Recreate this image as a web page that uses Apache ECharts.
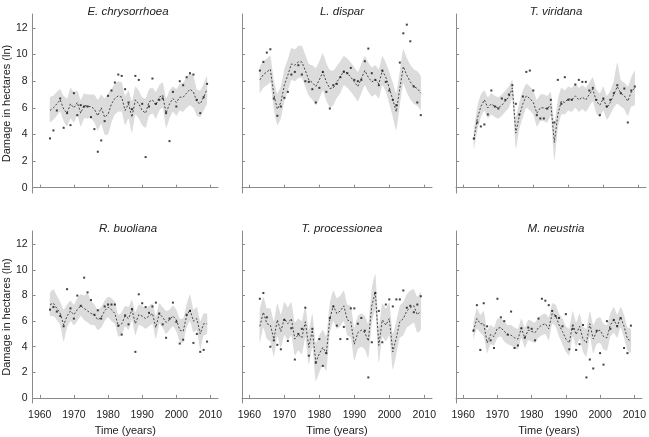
<!DOCTYPE html>
<html><head><meta charset="utf-8">
<script src="https://cdn.jsdelivr.net/npm/echarts@6/dist/echarts.min.js"></script>
<style>html,body{margin:0;padding:0;background:#fff}#c{width:649px;height:437px}</style>
</head><body><div id="c"></div>
<script>
const years = [];
for (let y = 1963; y <= 2009; y++) years.push(y);
const xTicks = [1960, 1970, 1980, 1990, 2000, 2010];
const yTicks = [0, 2, 4, 6, 8, 10, 12];
const species = ['E. chrysorrhoea', 'L. dispar', 'T. viridana', 'R. buoliana', 'T. processionea', 'M. neustria'];

// E. chrysorrhoea
const obs1 = [3.7,4.3,5.8,6.7,4.5,5.6,4.7,7.1,5.45,6.2, 6.1,6.1,5.3,4.4,2.7,3.55,5.0,6.9,7.3,7.9, 8.5,8.4,7.4,6.4,5.9,8.4,8.1,6.3,2.3,6.1, 8.2,6.3,6.6,6.7,5.6,3.5,7.2,6.1,8.0,7.7, 8.3,8.6,8.5,6.6,5.6,6.8,7.8];
const fit1 = [5.8,6.0,6.3,6.6,5.9,5.6,6.3,6.0,6.4,5.6, 6.2,6.1,6.1,5.9,5.4,6.0,5.3,5.5,6.3,6.7, 6.9,6.8,5.8,6.3,5.3,6.6,6.3,5.8,5.6,6.45, 6.6,6.2,6.8,6.95,5.6,6.3,6.7,6.4,6.8,6.8, 7.1,7.4,7.2,6.45,6.3,6.8,7.4];
const hi1 = [6.8,6.9,7.2,7.4,6.9,6.7,7.5,7.2,7.3,6.6, 7.1,7.0,7.0,7.0,6.6,7.0,6.7,7.1,7.4,7.8, 8.0,7.9,6.9,7.3,6.5,7.6,7.3,6.8,6.7,7.4, 7.5,7.2,7.7,7.9,6.7,7.3,7.6,7.4,7.8,7.9, 8.3,8.6,8.4,7.4,7.3,7.8,8.4];
const lo1 = [4.9,5.1,5.4,5.7,5.0,4.6,5.2,4.9,5.4,4.6, 5.2,5.2,5.2,4.9,4.3,4.8,4.0,4.0,4.9,5.5, 5.7,5.7,4.7,5.2,4.1,5.5,5.2,4.7,4.5,5.4, 5.6,5.2,5.8,6.0,4.5,5.2,5.7,5.4,5.8,5.7, 6.0,6.2,6.0,5.4,5.3,5.8,6.3];

// L. dispar
const obs2 = [8.8,9.45,10.15,10.4,6.7,5.4,6.1,6.75,7.2,8.5, 8.7,9.2,8.5,8.0,7.95,7.4,6.4,7.5,8.7,7.2, 5.95,7.7,7.8,8.3,8.7,8.6,9.0,8.1,8.0,8.1, 9.5,10.45,8.6,8.1,7.7,8.8,7.95,7.3,6.6,6.2, 9.4,11.6,12.25,11.0,7.6,6.4,5.45];
const fit2 = [8.1,8.5,8.7,8.9,7.0,5.9,6.4,7.7,8.45,9.3, 9.2,9.45,9.45,8.8,8.1,7.9,7.6,8.1,8.7,7.95, 7.45,7.5,7.95,8.3,8.8,8.6,8.3,7.95,7.6,8.2, 8.8,8.3,7.95,8.1,7.8,8.8,8.3,7.5,6.6,5.7, 7.45,9.1,8.45,7.95,7.6,7.45,7.1];
const hi2 = [9.1,9.5,9.7,9.9,8.1,7.1,7.6,8.9,9.65,10.5, 10.4,10.65,10.65,10.0,9.3,9.2,9.0,9.5,10.1,9.35, 8.85,8.8,9.15,9.5,9.9,9.7,9.4,9.05,8.7,9.3, 9.9,9.4,9.05,9.2,8.9,9.9,9.4,8.7,7.9,7.1, 8.75,10.4,9.75,9.25,8.9,8.75,8.4];
const lo2 = [7.1,7.5,7.7,7.9,5.9,4.7,5.2,6.5,7.25,8.1, 8.0,8.25,8.25,7.6,6.9,6.6,6.2,6.7,7.3,6.55, 6.05,6.2,6.75,7.1,7.7,7.5,7.2,6.85,6.5,7.1, 7.7,7.2,6.85,7.0,6.7,7.7,7.2,6.3,5.3,4.3, 6.15,7.8,7.15,6.65,6.3,6.15,5.8];

// T. viridana
const obs3 = [3.7,4.9,4.6,4.75,5.5,7.3,6.1,5.95,6.7,6.6, 7.0,7.7,6.3,5.5,6.85,8.7,8.8,7.3,5.45,5.2, 5.2,5.95,6.6,4.9,8.1,6.3,8.3,6.6,6.6,7.75, 8.1,7.95,7.95,7.3,7.5,6.6,5.45,6.7,6.1,6.6, 7.1,7.7,7.1,7.45,4.9,7.3,7.6];
const fit3 = [3.6,5.2,6.1,6.6,6.0,6.3,6.1,6.0,6.2,6.5, 6.8,7.5,4.1,5.4,6.3,6.9,6.7,6.4,5.6,6.0, 6.0,5.9,6.3,3.4,5.5,6.5,6.4,6.7,6.6,6.9, 6.6,6.8,6.6,7.0,7.4,6.5,6.2,6.7,6.0,6.4, 7.0,7.6,7.1,6.9,6.5,7.2,7.5];
const hi3 = [4.3,6.1,7.0,7.3,6.8,7.1,6.9,6.8,7.0,7.3, 7.6,8.1,5.3,6.4,7.3,7.8,7.6,7.3,6.6,7.0, 7.0,6.9,7.2,4.8,6.6,7.5,7.3,7.6,7.5,7.8, 7.5,7.7,7.5,7.9,8.3,7.4,7.1,7.6,6.9,7.3, 8.0,9.4,8.1,7.9,7.6,8.3,8.8];
const lo3 = [2.9,4.3,5.3,5.8,5.2,5.5,5.3,5.2,5.4,5.7, 6.0,6.7,2.9,4.4,5.3,6.0,5.8,5.5,4.6,5.0, 5.0,4.9,5.4,2.0,4.4,5.5,5.5,5.8,5.7,6.0, 5.7,5.9,5.7,6.1,6.5,5.6,5.3,5.8,5.1,5.5, 6.0,6.3,6.1,5.9,5.4,6.1,6.2];

// R. buoliana
const obs4 = [6.9,7.1,6.75,6.4,5.6,8.5,7.0,6.2,8.0,7.2, 9.4,8.25,7.65,6.5,6.85,6.2,7.15,7.3,7.3,7.3, 5.65,4.95,6.45,5.75,6.95,3.6,8.1,7.4,7.1,6.65, 7.15,7.45,6.6,5.75,4.7,6.2,7.45,5.95,4.25,4.55, 6.5,6.8,4.3,5.0,3.6,3.75,4.4];
const fit4 = [7.3,7.4,7.0,6.6,5.7,6.4,6.8,6.5,6.9,7.2, 7.0,6.8,6.6,6.5,6.1,6.3,6.8,7.1,6.9,6.6, 5.6,5.8,6.4,6.2,6.9,5.8,6.5,6.4,6.2,6.4, 6.6,5.5,6.6,6.3,5.9,6.1,6.4,6.1,5.3,5.2, 6.4,6.9,6.0,6.2,5.0,5.8,5.8];
const hi4 = [8.2,8.5,8.0,7.5,6.9,7.3,7.6,7.3,7.8,8.1, 8.0,8.2,7.6,7.3,6.9,7.1,7.6,7.9,7.8,7.5, 6.5,6.7,7.2,7.1,7.7,6.7,7.3,7.2,7.0,7.2, 7.4,6.4,7.4,7.1,6.8,6.9,7.2,6.9,6.2,6.2, 7.3,8.1,6.9,7.1,6.0,6.6,6.6];
const lo4 = [6.4,6.4,6.1,5.7,4.4,5.5,6.0,5.7,6.0,6.4, 6.1,5.9,5.7,5.7,5.3,5.5,6.0,6.3,6.0,5.8, 4.8,4.9,5.6,5.3,6.1,4.9,5.7,5.6,5.4,5.6, 5.8,4.6,5.8,5.5,5.0,5.3,5.6,5.2,4.4,4.3, 5.5,6.0,5.1,5.3,3.8,4.9,5.0];

// T. processionea
const obs5 = [7.75,8.2,6.3,4.0,4.5,4.15,3.8,6.1,4.45,5.45, 3.0,5.0,5.4,7.05,3.3,5.4,2.75,4.6,2.5,3.5, 6.25,7.15,5.65,4.6,5.55,4.6,7.0,7.0,5.8,6.25, 5.25,1.6,4.35,8.2,6.8,4.35,7.3,7.7,7.15,7.7, 7.7,8.4,7.05,7.2,6.7,7.3,7.95];
const fit5 = [5.6,6.7,5.8,5.7,4.6,6.1,5.2,6.2,5.8,6.2, 4.6,4.95,4.7,5.95,3.95,5.3,2.8,3.45,3.95,3.45, 6.2,7.2,6.6,6.8,7.2,6.1,5.95,4.2,5.1,5.3, 5.1,4.45,7.2,8.3,4.1,6.1,5.7,6.2,3.6,4.7, 5.95,6.2,6.8,7.05,7.2,6.5,6.8];
const hi5 = [6.9,7.9,7.0,7.0,6.0,7.4,6.5,7.5,7.1,7.5, 5.9,6.2,6.0,7.2,5.3,6.6,4.3,4.9,5.3,4.8, 7.4,8.4,7.8,8.0,8.4,7.3,7.2,5.5,6.4,6.6, 6.4,5.8,8.6,9.7,5.5,7.4,7.0,7.5,5.0,6.0, 7.2,7.5,8.1,8.4,8.5,7.9,8.3];
const lo5 = [4.3,5.5,4.6,4.4,3.2,4.8,3.9,4.9,4.5,4.9, 3.3,3.7,3.4,4.7,2.6,4.0,1.3,2.0,2.6,2.1, 5.0,6.0,5.4,5.6,6.0,4.9,4.7,2.9,3.8,4.0, 3.8,3.1,5.8,6.9,2.7,4.8,4.4,4.9,2.2,3.4, 4.7,4.9,5.5,5.7,5.9,5.1,5.3];

// M. neustria
const obs6 = [5.25,7.25,3.75,7.4,5.6,4.5,3.9,7.75,6.3,6.0, 4.95,6.75,3.9,4.1,5.45,4.7,5.5,5.4,4.5,6.2, 7.75,7.6,7.25,6.8,6.4,6.25,5.6,6.55,3.8,5.4, 3.75,4.2,5.7,1.6,3.0,2.3,5.25,3.5,2.6,6.0, 5.4,6.1,5.6,6.25,3.9,3.5,5.65];
const fit6 = [5.25,6.2,5.8,5.8,4.3,4.95,4.8,5.45,5.5,5.2, 4.95,4.9,4.7,4.6,5.45,4.7,5.3,5.2,5.1,5.5, 5.7,5.8,5.4,6.6,6.45,5.7,5.2,4.6,4.3,5.8, 4.95,5.6,4.6,4.3,5.8,4.6,5.2,5.3,4.8,4.7, 5.7,6.1,5.6,6.3,5.6,4.6,4.45];
const hi6 = [5.9,7.0,6.5,6.8,5.3,5.7,5.5,6.2,6.2,6.0, 5.7,5.7,5.5,5.4,6.2,5.5,6.1,6.0,5.9,6.3, 6.5,6.6,6.3,7.4,7.3,6.6,6.2,5.6,5.4,6.8, 5.9,6.6,5.6,5.4,6.8,5.7,6.2,6.3,5.8,5.7, 6.6,7.1,6.5,7.1,6.5,5.5,5.4];
const lo6 = [4.6,5.4,5.1,4.8,3.5,4.2,4.1,4.7,4.8,4.4, 4.2,4.1,3.9,3.8,4.7,3.9,4.5,4.4,4.3,4.7, 4.9,5.0,4.5,5.8,5.6,4.8,4.2,3.6,3.3,4.8, 4.0,4.6,3.6,3.2,4.8,3.5,4.2,4.3,3.8,3.7, 4.8,5.1,4.7,5.5,4.7,3.7,3.5];

const panels = [
  {obs: obs1, fit: fit1, hi: hi1, lo: lo1},
  {obs: obs2, fit: fit2, hi: hi2, lo: lo2},
  {obs: obs3, fit: fit3, hi: hi3, lo: lo3},
  {obs: obs4, fit: fit4, hi: hi4, lo: lo4},
  {obs: obs5, fit: fit5, hi: hi5, lo: lo5},
  {obs: obs6, fit: fit6, hi: hi6, lo: lo6}
];

const FONT = 'Liberation Sans, Arial, Helvetica, sans-serif';
const colLeft = [28, 242, 456];
const rowTop = [14, 231];
const W = 190, H = 179;
const grids = [], xAxes = [], yAxes = [], series = [], titles = [];
const axisColor = '#8a8a8a';

panels.forEach((p, k) => {
  const r = Math.floor(k / 3), c = k % 3;
  grids.push({left: colLeft[c], top: rowTop[r], width: W, height: H});
  titles.push({
    text: species[k], left: colLeft[c] + W / 2, top: rowTop[r] - 13, textAlign: 'center',
    textStyle: {fontFamily: FONT, fontStyle: 'italic', fontWeight: 'normal', fontSize: 11.5, color: '#222'}
  });
  xAxes.push({
    type: 'value', gridIndex: k, min: 1957.9, max: 2012.2,
    axisLine: {lineStyle: {color: axisColor, width: 1}},
    axisTick: {inside: true, length: 3, customValues: xTicks, lineStyle: {color: axisColor}},
    axisLabel: {show: r === 1, customValues: xTicks, formatter: v => String(v),
      fontFamily: FONT, fontSize: 10.5, color: '#222', margin: 7},
    splitLine: {show: false},
    name: r === 1 ? 'Time (years)' : '', nameLocation: 'middle', nameGap: 22,
    nameTextStyle: {fontFamily: FONT, fontSize: 11, color: '#222'}
  });
  yAxes.push({
    type: 'value', gridIndex: k, min: -0.4, max: 13.05,
    axisLine: {show: true, lineStyle: {color: axisColor, width: 1}},
    axisTick: {show: true, inside: true, length: 3, customValues: yTicks, lineStyle: {color: axisColor}},
    axisLabel: {show: c === 0, customValues: yTicks, formatter: v => String(v),
      fontFamily: FONT, fontSize: 10.5, color: '#222', margin: 5},
    splitLine: {show: false},
    name: c === 0 ? 'Damage in hectares (ln)' : '', nameLocation: 'middle', nameGap: 17,
    nameTextStyle: {fontFamily: FONT, fontSize: 11, color: '#222'}
  });
  const lo = p.lo, hi = p.hi;
  series.push({
    type: 'custom', xAxisIndex: k, yAxisIndex: k, silent: true, clip: false,
    data: years.map((y, i) => [y, lo[i], hi[i]]),
    encode: {x: 0, y: [1, 2]},
    renderItem: function (params, api) {
      if (params.dataIndex !== 0) return null;
      const pts = [];
      for (let i = 0; i < years.length; i++) pts.push(api.coord([years[i], hi[i]]));
      for (let i = years.length - 1; i >= 0; i--) pts.push(api.coord([years[i], lo[i]]));
      return {type: 'polygon', shape: {points: pts, smooth: 0.15}, style: {fill: '#dcdcdc', stroke: null}};
    },
    z: 1
  });
  series.push({
    type: 'line', xAxisIndex: k, yAxisIndex: k, silent: true, showSymbol: false, symbol: 'none',
    data: years.map((y, i) => [y, p.fit[i]]),
    lineStyle: {color: '#333', width: 0.9, type: [2, 1.8]}, z: 2
  });
  series.push({
    type: 'scatter', xAxisIndex: k, yAxisIndex: k, silent: true, symbol: 'rect', symbolSize: 2,
    data: years.map((y, i) => [y, p.obs[i]]),
    itemStyle: {color: '#111'}, z: 3
  });
});

const chart = echarts.init(document.getElementById('c'), null, {renderer: 'canvas'});
chart.setOption({
  animation: false, backgroundColor: '#fff',
  title: titles, grid: grids, xAxis: xAxes, yAxis: yAxes, series: series
});
</script></body></html>
